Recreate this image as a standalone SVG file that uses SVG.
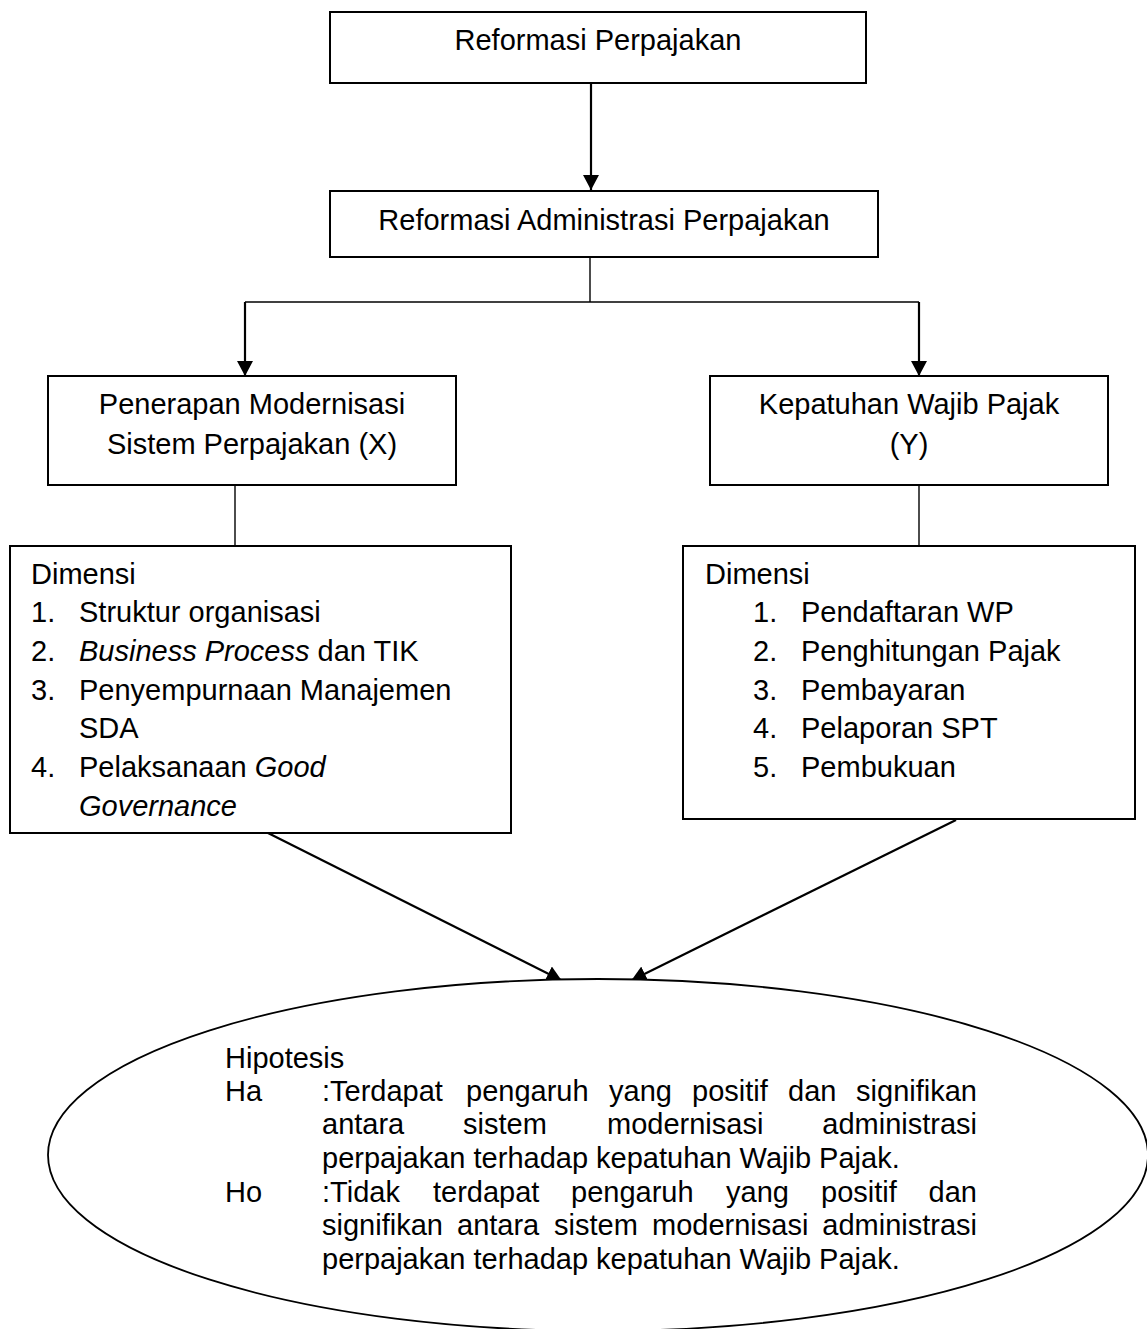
<svg xmlns="http://www.w3.org/2000/svg" width="1147" height="1329" viewBox="0 0 1147 1329">
<style>
text{font-family:"Liberation Sans",Arial,sans-serif;font-size:29px;fill:#000}
.c{text-anchor:middle}
.e{text-anchor:end}
.i{font-style:italic}
.box{fill:#fff;stroke:#000;stroke-width:2}
.ln{fill:none;stroke:#000;stroke-width:1.4}
.ar{fill:none;stroke:#000;stroke-width:2.2;marker-end:url(#ah)}
</style>
<defs>
<marker id="ah" markerUnits="userSpaceOnUse" markerWidth="15" markerHeight="16" refX="15" refY="8" orient="auto" viewBox="0 0 15 16">
<path d="M0,0 L15,8 L0,16 z" fill="#000"/>
</marker>
</defs>
<g id="connectors">
<line class="ar" x1="591" y1="83" x2="591" y2="190"/>
<polyline class="ln" points="590,257 590,302"/>
<polyline class="ln" points="245,302 919,302"/>
<line class="ar" x1="245" y1="302" x2="245" y2="376"/>
<line class="ar" x1="919" y1="302" x2="919" y2="376"/>
<line class="ln" x1="235" y1="485" x2="235" y2="546"/>
<line class="ln" x1="919" y1="485" x2="919" y2="546"/>
<line class="ar" x1="268" y1="833" x2="561.7" y2="980.4"/>
<line class="ar" x1="956" y1="820" x2="631.3" y2="980.4"/>
</g>
<g id="reformasi-perpajakan">
<rect class="box" x="330" y="12" width="536" height="71"/>
<text class="c" x="598" y="50">Reformasi Perpajakan</text>
</g>
<g id="reformasi-administrasi">
<rect class="box" x="330" y="191" width="548" height="66"/>
<text class="c" x="604" y="230">Reformasi Administrasi Perpajakan</text>
</g>
<g id="penerapan-x">
<rect class="box" x="48" y="376" width="408" height="109"/>
<text class="c" x="252" y="414">Penerapan Modernisasi</text>
<text class="c" x="252" y="454">Sistem Perpajakan (X)</text>
</g>
<g id="kepatuhan-y">
<rect class="box" x="710" y="376" width="398" height="109"/>
<text class="c" x="909" y="414">Kepatuhan Wajib Pajak</text>
<text class="c" x="909" y="454">(Y)</text>
</g>
<g id="dimensi-x">
<rect class="box" x="10" y="546" width="501" height="287"/>
<text x="31" y="584">Dimensi</text>
<text x="31" y="622">1.</text><text x="79" y="622">Struktur organisasi</text>
<text x="31" y="661">2.</text><text x="79" y="661"><tspan class="i">Business Process</tspan> dan TIK</text>
<text x="31" y="700">3.</text><text x="79" y="700">Penyempurnaan Manajemen</text>
<text x="79" y="738">SDA</text>
<text x="31" y="777">4.</text><text x="79" y="777">Pelaksanaan <tspan class="i">Good</tspan></text>
<text class="i" x="79" y="816">Governance</text>
</g>
<g id="dimensi-y">
<rect class="box" x="683" y="546" width="452" height="273"/>
<text x="705" y="584">Dimensi</text>
<text x="753" y="622">1.</text><text x="801" y="622">Pendaftaran WP</text>
<text x="753" y="661">2.</text><text x="801" y="661">Penghitungan Pajak</text>
<text x="753" y="700">3.</text><text x="801" y="700">Pembayaran</text>
<text x="753" y="738">4.</text><text x="801" y="738">Pelaporan SPT</text>
<text x="753" y="777">5.</text><text x="801" y="777">Pembukuan</text>
</g>
<g id="hipotesis">
<ellipse cx="598" cy="1155" rx="550" ry="176" fill="#fff" stroke="#000" stroke-width="1.8"/>
<text x="225" y="1068">Hipotesis</text>
<text x="225" y="1101">Ha</text>
<text x="322" y="1101">:Terdapat</text><text x="466" y="1101">pengaruh</text><text x="609" y="1101">yang</text><text x="692" y="1101">positif</text><text x="788" y="1101">dan</text><text class="e" x="977" y="1101">signifikan</text>
<text x="322" y="1134">antara</text><text x="463" y="1134">sistem</text><text x="607" y="1134">modernisasi</text><text class="e" x="977" y="1134">administrasi</text>
<text x="322" y="1168">perpajakan terhadap kepatuhan Wajib Pajak.</text>
<text x="225" y="1202">Ho</text>
<text x="322" y="1202">:Tidak</text><text x="433" y="1202">terdapat</text><text x="571" y="1202">pengaruh</text><text x="726" y="1202">yang</text><text x="821" y="1202">positif</text><text class="e" x="977" y="1202">dan</text>
<text x="322" y="1235">signifikan</text><text x="457" y="1235">antara</text><text x="554" y="1235">sistem</text><text x="652" y="1235">modernisasi</text><text class="e" x="977" y="1235">administrasi</text>
<text x="322" y="1269">perpajakan terhadap kepatuhan Wajib Pajak.</text>
</g>
</svg>
